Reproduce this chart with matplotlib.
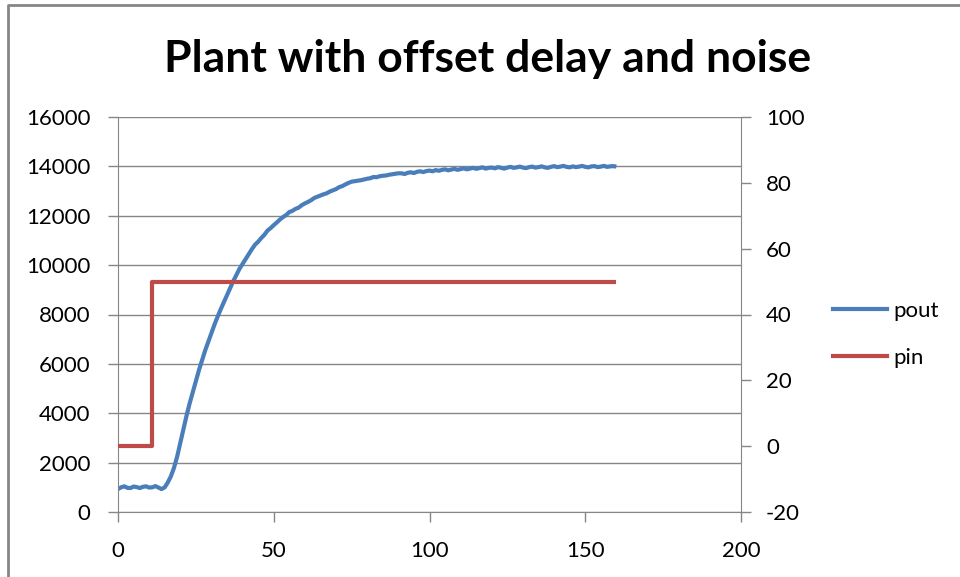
import matplotlib
matplotlib.use("Agg")
import matplotlib.pyplot as plt
from matplotlib.lines import Line2D

# sample index (x axis)
t = list(range(0, 161))

# plant output (left axis)
pout = [930, 1000, 1040, 980, 970, 1030, 1010, 970, 1020, 1040,
        990, 1000, 1050, 990, 930, 1000, 1200, 1450, 1800, 2250,
        2800, 3350, 3900, 4400, 4850, 5300, 5750, 6150, 6550, 6900,
        7250, 7600, 7920, 8220, 8500, 8780, 9050, 9350, 9600, 9850,
        10050, 10250, 10450, 10650, 10830, 10950, 11100, 11230, 11400, 11500,
        11620, 11730, 11850, 11950, 12030, 12150, 12200, 12280, 12330, 12430,
        12500, 12560, 12630, 12720, 12770, 12820, 12870, 12910, 12980, 13030,
        13080, 13160, 13200, 13270, 13330, 13380, 13400, 13420, 13440, 13470,
        13500, 13520, 13570, 13560, 13600, 13620, 13630, 13660, 13680, 13700,
        13720, 13720, 13690, 13740, 13760, 13730, 13780, 13800, 13770, 13810,
        13830, 13800, 13850, 13820, 13860, 13880, 13840, 13870, 13900, 13860,
        13890, 13920, 13880, 13910, 13940, 13900, 13930, 13960, 13910, 13940,
        13950, 13920, 13970, 13940, 13910, 13950, 13980, 13940, 13960, 13990,
        13950, 13930, 13970, 13990, 13950, 13970, 14000, 13960, 13940, 13980,
        14010, 13970, 13990, 14020, 13980, 13960, 14000, 13970, 13990, 14020,
        13980, 13960, 14000, 14010, 13970, 13990, 14020, 13980, 14000, 14010,
        13990]

# plant input, step changes (right axis)
pin_t = [0, 11, 160]
pin = [0, 50, 50]

xticks = [0, 50, 100, 150, 200]
lticks = [0, 2000, 4000, 6000, 8000, 10000, 12000, 14000, 16000]
rticks = [-20, 0, 20, 40, 60, 80, 100]

BLUE = '#4A7EBB'
RED = '#BE4B48'
GRAY = '#868686'
FONT = 'Lato'

plt.rcParams['axes.unicode_minus'] = False

W, H = 960, 577
fig = plt.figure(figsize=(W / 100, H / 100), dpi=100)

## plot area in pixels from the reference
ax = fig.add_axes([118 / W, 1 - 512 / H, (741 - 118) / W, (512 - 117) / H])
ax2 = ax.twinx()

ax.plot(t, pout, color=BLUE, lw=3, solid_capstyle='butt', label='pout')
ax2.plot(pin_t, pin, color=RED, lw=3, drawstyle='steps-post',
         solid_capstyle='butt', label='pin')

ax.set_xlim(0, 200)
ax.set_ylim(0, 16000)
ax2.set_ylim(-20, 100)
ax.set_xticks(xticks)
ax.set_yticks(lticks)
ax2.set_yticks(rticks)

## gridlines on left axis only
ax.grid(axis='y', color=GRAY, lw=1)
ax.set_axisbelow(True)

for a in (ax, ax2):
    for s in a.spines.values():
        s.set_visible(False)
    a.tick_params(colors=GRAY, length=7, width=1, labelcolor='#000000',
                  labelsize=16)
    for lab in a.get_xticklabels() + a.get_yticklabels():
        lab.set_fontfamily(FONT)

ax.spines['left'].set_visible(True)
ax.spines['bottom'].set_visible(True)
ax.spines['left'].set_color(GRAY)
ax.spines['bottom'].set_color(GRAY)
ax2.spines['right'].set_visible(True)
ax2.spines['right'].set_color(GRAY)

ax.tick_params(axis='y', pad=13)
ax.tick_params(axis='x', pad=14)
ax2.tick_params(axis='y', pad=11)

## title
fig.text(488 / W, 1 - 72 / H, 'Plant with offset delay and noise',
         ha='center', va='baseline', fontsize=32, fontweight='bold',
         family=FONT)

## legend to the right of the plot
handles = [Line2D([], [], color=BLUE, lw=3), Line2D([], [], color=RED, lw=3)]
fig.legend(handles, ['pout', 'pin'], loc='upper left',
           bbox_to_anchor=(833 / W, 1 - 301 / H), frameon=False,
           borderpad=0, borderaxespad=0, handlelength=2.45,
           handletextpad=0.25, labelspacing=1.2,
           prop={'family': FONT, 'size': 16})

## chart border (only top and left are inside the picture)
fig.add_artist(Line2D([8 / W, 8 / W, 1.0], [0.0, 1 - 4.5 / H, 1 - 4.5 / H],
                      color=GRAY, lw=2))

fig.savefig('out.png', dpi=100)
